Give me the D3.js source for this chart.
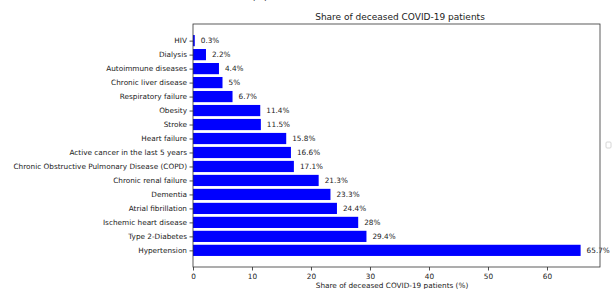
<!DOCTYPE html>
<html><head><meta charset="utf-8">
<script src="https://cdn.jsdelivr.net/npm/d3@7"></script>
<style>body{margin:0;background:#fff}svg{display:block}text{font-family:"DejaVu Sans",sans-serif;fill:#222}</style>
</head><body>
<script>
const categories = ["HIV","Dialysis","Autoimmune diseases","Chronic liver disease","Respiratory failure","Obesity","Stroke","Heart failure","Active cancer in the last 5 years","Chronic Obstructive Pulmonary Disease (COPD)","Chronic renal failure","Dementia","Atrial fibrillation","Ischemic heart disease","Type 2-Diabetes","Hypertension"];
const values = [0.3,2.2,4.4,5,6.7,11.4,11.5,15.8,16.6,17.1,21.3,23.3,24.4,28,29.4,65.7];
const labels = ["0.3%","2.2%","4.4%","5%","6.7%","11.4%","11.5%","15.8%","16.6%","17.1%","21.3%","23.3%","24.4%","28%","29.4%","65.7%"];
const xTicks = [0,10,20,30,40,50,60];
const title = "Share of deceased COVID-19 patients";
const xLabel = "Share of deceased COVID-19 patients (%)";

const W=612,H=289;
const L=193,R=600,T=24,B=267;
const FS=7.3;
const svg=d3.select("body").append("svg").attr("width",W).attr("height",H);
const maxV=d3.max(values);
const x=d3.scaleLinear().domain([0,maxV*1.05]).range([L,R]);
const n=categories.length;
const span=(n-1)+0.8;
const y=d3.scaleLinear().domain([-0.4-0.05*span,(n-1)+0.4+0.05*span]).range([T,B]);

// bars
svg.append("g").selectAll("rect").data(values).join("rect")
 .attr("x",x(0)).attr("y",(d,i)=>y(i-0.4))
 .attr("width",d=>x(d)-x(0)).attr("height",(d,i)=>y(i+0.4)-y(i-0.4))
 .attr("fill","#0000ff");

// bar labels
svg.append("g").selectAll("text").data(values).join("text")
 .attr("x",d=>x(d)+6).attr("y",(d,i)=>y(i)).attr("dy","0.35em")
 .attr("font-size",FS).text((d,i)=>labels[i]);

// axes
const ax=svg.append("g").attr("transform",`translate(0,${B})`)
 .call(d3.axisBottom(x).tickValues(xTicks).tickSize(3.5).tickPadding(3).tickFormat(d3.format("d")));
const ay=svg.append("g").attr("transform",`translate(${L},0)`)
 .call(d3.axisLeft(y).tickValues(d3.range(n)).tickSize(3.5).tickPadding(2.5).tickFormat(i=>categories[i]));
[ax,ay].forEach(g=>{g.selectAll("text").attr("font-size",FS).attr("font-family","DejaVu Sans").attr("fill","#222");
 g.selectAll("line").attr("stroke","#222").attr("stroke-width",0.8); g.select(".domain").remove();});

// frame
svg.append("rect").attr("x",L).attr("y",T).attr("width",R-L).attr("height",B-T)
 .attr("fill","none").attr("stroke","#333").attr("stroke-width",0.8);

svg.append("text").attr("x",400).attr("y",19.5).attr("text-anchor","middle").attr("font-size",9).text(title);
svg.append("text").attr("x",392).attr("y",287.5).attr("text-anchor","middle").attr("font-size",FS).text(xLabel);

// remnant text cut off at top
svg.append("text").attr("x",252).attr("y",0).attr("font-size",9).attr("fill","#444").text("(%)");
// small box on right
svg.append("rect").attr("x",606).attr("y",142).attr("width",5).attr("height",6).attr("rx",1)
 .attr("fill","none").attr("stroke","#ccc").attr("stroke-width",0.8);
</script>
</body></html>
